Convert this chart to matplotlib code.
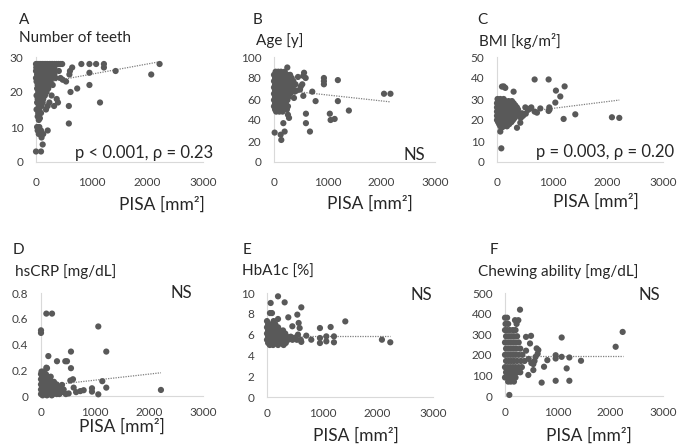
import matplotlib.pyplot as plt
import numpy as np

plt.rcParams["font.family"] = ["Lato", "DejaVu Sans"]

W, H = 680, 448

# (PISA mm2, value) pairs
teeth_points = [
    (0, 28), (25, 28), (55, 28), (85, 28), (115, 28), (145, 28), (175, 28), (205, 28), (240, 28),
    (270, 28), (300, 28), (335, 28), (370, 28), (405, 28), (440, 28), (470, 28), (815, 28),
    (960, 28), (1080, 28), (1220, 28), (2220, 28),
    (5, 27), (40, 27), (80, 27), (120, 27), (160, 27), (200, 27), (245, 27), (285, 27), (330, 27),
    (1220, 27), (650, 27),
    (0, 26), (50, 26), (95, 26), (150, 26), (195, 26), (250, 26), (300, 26), (345, 26), (410, 26),
    (610, 26), (1430, 26), (960, 25.5),
    (20, 25), (70, 25), (120, 25), (170, 25), (225, 25), (275, 25), (330, 25), (600, 25), (2070, 25),
    (0, 24), (40, 24), (90, 24), (140, 24), (190, 24), (240, 24), (290, 24), (350, 24), (440, 24),
    (480, 23.5),
    (10, 23), (60, 23), (110, 23), (160, 23), (210, 23), (260, 23), (540, 23),
    (30, 22), (80, 22), (130, 22), (180, 22), (230, 22), (300, 22), (960, 22),
    (20, 21), (70, 21), (120, 21), (170, 21), (220, 21), (740, 21),
    (40, 20), (90, 20), (140, 20), (190, 20), (620, 20),
    (10, 19), (60, 19), (110, 19), (160, 19), (280, 19),
    (30, 18), (80, 18), (130, 18), (372, 18),
    (20, 17), (70, 17), (120, 17), (240, 17), (395, 17), (1150, 17),
    (50, 16), (100, 16), (210, 16), (325, 16), (590, 16),
    (10, 15), (60, 15), (180, 15), (40, 14), (90, 14), (30, 13), (70, 12.5), (50, 12),
    (590, 11), (20, 10), (60, 10), (30, 9), (90, 9), (210, 9), (50, 8), (130, 8), (100, 7),
    (120, 5), (0, 3), (90, 3),
]

age_points = [
    (30, 86), (80, 86), (130, 86), (200, 86),
    (0, 83), (50, 83), (100, 83), (150, 83), (200, 83), (250, 83), (300, 83),
    (20, 80), (70, 80), (120, 80), (170, 80), (220, 80), (270, 80), (330, 80),
    (0, 77), (45, 77), (95, 77), (145, 77), (195, 77), (245, 77), (300, 77), (360, 77),
    (20, 74), (70, 74), (120, 74), (170, 74), (220, 74), (270, 74), (320, 74), (400, 74),
    (0, 71), (45, 71), (95, 71), (145, 71), (195, 71), (245, 71), (300, 71), (350, 71),
    (20, 68), (70, 68), (120, 68), (170, 68), (220, 68), (270, 68), (330, 68), (420, 68),
    (0, 65), (45, 65), (95, 65), (145, 65), (195, 65), (245, 65), (300, 65),
    (20, 62), (70, 62), (120, 62), (170, 62), (220, 62), (270, 62),
    (0, 59), (45, 59), (95, 59), (145, 59), (195, 59), (250, 59),
    (20, 56), (70, 56), (120, 56), (170, 56), (220, 56),
    (0, 53), (45, 53), (95, 53), (145, 53), (200, 53), (260, 53),
    (20, 50), (70, 50), (120, 50), (180, 50), (240, 50), (40, 48), (100, 48), (160, 48),
    (2170, 65), (2050, 65), (1395, 49), (1190, 78), (1190, 58), (1040, 46), (1055, 40),
    (1130, 41), (930, 80), (930, 77), (930, 74), (775, 58), (713, 67), (670, 29), (595, 46),
    (595, 37), (546, 82), (560, 85), (527, 74), (546, 63), (484, 69), (447, 81), (372, 61),
    (384, 67), (248, 90), (280, 42), (260, 45), (174, 37), (198, 29), (124, 26), (136, 21),
    (12, 28), (500, 72), (590, 80),
]

bmi_points = [
    (10, 30), (60, 30), (120, 30),
    (30, 29), (90, 29), (150, 29), (210, 29), (270, 29),
    (0, 28), (50, 28), (110, 28), (170, 28), (230, 28), (300, 28),
    (20, 27), (80, 27), (140, 27), (200, 27), (260, 27), (330, 27),
    (0, 26), (50, 26), (110, 26), (170, 26), (230, 26), (290, 26), (360, 26),
    (20, 25), (80, 25), (140, 25), (200, 25), (260, 25), (320, 25), (380, 25),
    (0, 24), (50, 24), (110, 24), (170, 24), (230, 24), (290, 24), (350, 24),
    (20, 23), (80, 23), (140, 23), (200, 23), (260, 23), (320, 23), (390, 23),
    (0, 22), (50, 22), (110, 22), (170, 22), (230, 22), (290, 22), (350, 22),
    (20, 21), (80, 21), (140, 21), (200, 21), (260, 21), (320, 21),
    (0, 20), (50, 20), (110, 20), (170, 20), (230, 20), (290, 20),
    (20, 19), (80, 19), (140, 19), (200, 19), (260, 19),
    (40, 18), (100, 18), (160, 18), (220, 18), (60, 17), (120, 17), (180, 17), (90, 16.5),
    (430, 21), (470, 22), (520, 23), (560, 24.8), (600, 25.5), (620, 26), (512, 26), (450, 23.2),
    (680, 24), (722, 23.5), (783, 25.5),
    (2210, 21), (2077, 21.3), (1415, 22.7), (1222, 36), (1204, 20.5), (1144, 31.2), (1065, 34),
    (1054, 28.3), (933, 39.3), (945, 26), (933, 24.3), (680, 39.3), (300, 33.5), (90, 35.9),
    (150, 35.3), (120, 36), (78, 6.5), (60, 14.5), (361, 16.3), (421, 18.7), (950, 25),
]

crp_points = [
    (10, 0.19), (50, 0.19), (0, 0.17), (40, 0.17), (90, 0.17),
    (20, 0.15), (70, 0.15), (130, 0.15), (180, 0.15),
    (0, 0.13), (50, 0.13), (100, 0.13), (160, 0.13),
    (20, 0.11), (70, 0.11), (130, 0.11), (190, 0.11), (240, 0.11),
    (0, 0.09), (50, 0.09), (100, 0.09), (160, 0.09), (220, 0.09), (290, 0.09),
    (20, 0.07), (70, 0.07), (130, 0.07), (190, 0.07), (250, 0.07), (320, 0.07),
    (0, 0.05), (50, 0.05), (100, 0.05), (160, 0.05), (220, 0.05), (280, 0.05), (350, 0.05), (420, 0.05),
    (20, 0.03), (70, 0.03), (130, 0.03), (190, 0.03), (250, 0.03), (320, 0.03), (380, 0.03),
    (0, 0.015), (50, 0.015), (100, 0.015), (160, 0.015), (220, 0.015), (290, 0.015), (340, 0.015),
    (460, 0.015), (30, 0.005), (110, 0.005), (200, 0.005),
    (2221, 0.047), (1209, 0.345), (1209, 0.065), (1135, 0.115), (1061, 0.54), (1061, 0.013),
    (944, 0.06), (944, 0.034), (790, 0.045), (728, 0.038), (555, 0.345), (555, 0.216),
    (592, 0.13), (543, 0.12), (605, 0.065), (481, 0.27), (450, 0.27), (296, 0.27), (136, 0.31),
    (99, 0.64), (204, 0.64), (0, 0.51), (0, 0.49), (111, 0.216), (99, 0.22), (389, 0.086),
    (512, 0.02), (650, 0.03),
]

hba1c_points = [
    (0, 7.3), (120, 7.3), (20, 7.0), (80, 7.0), (150, 7.0),
    (0, 6.7), (50, 6.7), (110, 6.7), (200, 6.7),
    (20, 6.4), (80, 6.4), (140, 6.4), (230, 6.4), (290, 6.4),
    (0, 6.1), (50, 6.1), (110, 6.1), (170, 6.1), (260, 6.1), (330, 6.1),
    (20, 5.8), (80, 5.8), (140, 5.8), (200, 5.8), (290, 5.8), (360, 5.8), (430, 5.8),
    (0, 5.5), (50, 5.5), (110, 5.5), (170, 5.5), (240, 5.5), (310, 5.5), (380, 5.5), (460, 5.5),
    (540, 5.5), (610, 5.5),
    (20, 5.2), (80, 5.2), (140, 5.2), (200, 5.2), (270, 5.2), (340, 5.2),
    (50, 5.0), (110, 5.0), (200, 5.0), (300, 5.0),
    (2228, 5.26), (2077, 5.51), (1415, 7.27), (1210, 5.83), (1210, 5.26), (1150, 6.73),
    (1072, 5.83), (1072, 5.35), (957, 6.63), (957, 5.67), (957, 5.19), (800, 5.51), (710, 5.9),
    (620, 8.62), (548, 7.92), (572, 7.12), (590, 6.63), (458, 6.8), (385, 7.66), (319, 9.1),
    (199, 9.68), (66, 9.04), (90, 8.07), (54, 8.07), (620, 5.3), (560, 6.0), (500, 5.7),
    (420, 5.6), (199, 7.5),
]

chewing_points = [
    (0, 380), (40, 380), (10, 350), (60, 350), (220, 350),
    (0, 320), (40, 320), (90, 320), (150, 320), (200, 320),
    (20, 290), (70, 290), (120, 290), (170, 290), (230, 290),
    (0, 260), (50, 260), (100, 260), (150, 260), (200, 260), (260, 260),
    (20, 230), (70, 230), (120, 230), (170, 230), (220, 230), (290, 230),
    (0, 200), (50, 200), (100, 200), (150, 200), (200, 200), (260, 200), (330, 200),
    (20, 170), (70, 170), (120, 170), (170, 170), (230, 170), (300, 170), (370, 170),
    (0, 140), (50, 140), (100, 140), (150, 140), (200, 140), (260, 140), (320, 140),
    (20, 115), (70, 115), (120, 115), (170, 115), (230, 115), (290, 115),
    (0, 90), (50, 90), (100, 90), (150, 90), (200, 90), (60, 70), (110, 70), (170, 70),
    (2234, 311), (2101, 239), (1443, 171), (1222, 187), (1222, 74), (1171, 134), (1076, 284),
    (1076, 190), (962, 198), (962, 182), (962, 74), (804, 174), (741, 142), (696, 65),
    (633, 223), (601, 231), (620, 205), (538, 155), (538, 126), (494, 292), (475, 255),
    (443, 102), (399, 287), (285, 419), (253, 368), (190, 368), (82, 5), (400, 220),
    (450, 180), (500, 160), (580, 190), (560, 170),
]

# linear trend lines: (intercept, slope per mm2)
trend_lines = [(22.2, 0.0029), (69.4, -0.0056), (22.2, 0.0033),
               (0.076, 0.000047), (5.9, 0.0), (195.0, 0.0)]

letters = ["A", "B", "C", "D", "E", "F"]
titles = ["Number of teeth", "Age [y]", "BMI [kg/m\u00b2]",
          "hsCRP [mg/dL]", "HbA1c [%]", "Chewing ability [mg/dL]"]
notes = ["p < 0.001, \u03c1 = 0.23", "NS", "p = 0.003, \u03c1 = 0.20", "NS", "NS", "NS"]
y_max = [30, 100, 50, 0.8, 10, 500]
y_step = [10, 20, 10, 0.2, 2, 100]
x_ticks = [0, 1000, 2000, 3000]

# layout in pixels: axes box (left, top, right, bottom) and text anchors
boxes = [(36, 57, 203, 162), (274, 57, 435, 162), (497, 57, 663, 162),
         (41, 293, 203, 396), (267, 293, 433, 397), (505, 293, 663, 396)]
letter_pos = [(19, 20), (253, 20), (477, 20), (13, 250), (243, 250), (490, 250)]
title_pos = [(19, 38), (256, 41), (479, 41), (15, 272), (242, 272), (478, 272)]
note_pos = [(213, 153), (425, 155), (674, 152), (192, 293), (432, 295), (660, 295)]
xlabel_pos = [(162, 205), (370, 204), (596, 202), (122, 427), (356, 436), (589, 436)]

DOT = "#595959"
TEXT = "#404040"
AXIS = "#d9d9d9"

fig = plt.figure(figsize=(W / 100, H / 100), dpi=100)
datasets = [teeth_points, age_points, bmi_points, crp_points, hba1c_points, chewing_points]

for i, points in enumerate(datasets):
    left, top, right, bottom = boxes[i]
    ax = fig.add_axes([left / W, 1 - bottom / H, (right - left) / W, (bottom - top) / H])
    pts = np.array(points, dtype=float)

    intercept, slope = trend_lines[i]
    xs = np.array([pts[:, 0].min(), pts[:, 0].max()])
    ax.plot(xs, intercept + slope * xs, color="#7f7f7f", lw=0.9,
            linestyle=(0, (1, 1)), zorder=1)
    # dots sit on top of the axis lines, like the original
    ax.scatter(pts[:, 0], pts[:, 1], s=20, color=DOT, edgecolors="none",
               zorder=3, clip_on=False)

    ax.set_xlim(0, 3000)
    ax.set_ylim(0, y_max[i])
    ax.set_xticks(x_ticks)
    ax.set_yticks(np.arange(0, y_max[i] + y_step[i] / 2, y_step[i]))
    if y_max[i] < 1:
        ax.set_yticklabels([f"{v:g}" for v in ax.get_yticks()])
    ax.tick_params(length=0, labelsize=8.5, labelcolor=TEXT)
    ax.tick_params(axis="x", pad=11 if i < 3 else 8)
    ax.tick_params(axis="y", pad=9)
    for side in ["top", "right"]:
        ax.spines[side].set_visible(False)
    for side in ["left", "bottom"]:
        ax.spines[side].set_color(AXIS)
        ax.spines[side].set_linewidth(0.8)
    ax.patch.set_alpha(0)

    fig.text(letter_pos[i][0] / W, 1 - letter_pos[i][1] / H, letters[i],
             fontsize=11, color="#262626", va="center", ha="left")
    fig.text(title_pos[i][0] / W, 1 - title_pos[i][1] / H, titles[i],
             fontsize=11, color="#262626", va="center", ha="left")
    fig.text(note_pos[i][0] / W, 1 - note_pos[i][1] / H, notes[i],
             fontsize=12, color="#262626", va="center", ha="right")
    fig.text(xlabel_pos[i][0] / W, 1 - xlabel_pos[i][1] / H, "PISA [mm\u00b2]",
             fontsize=12.5, color="#262626", va="center", ha="center")

fig.savefig("out.png", dpi=100)
